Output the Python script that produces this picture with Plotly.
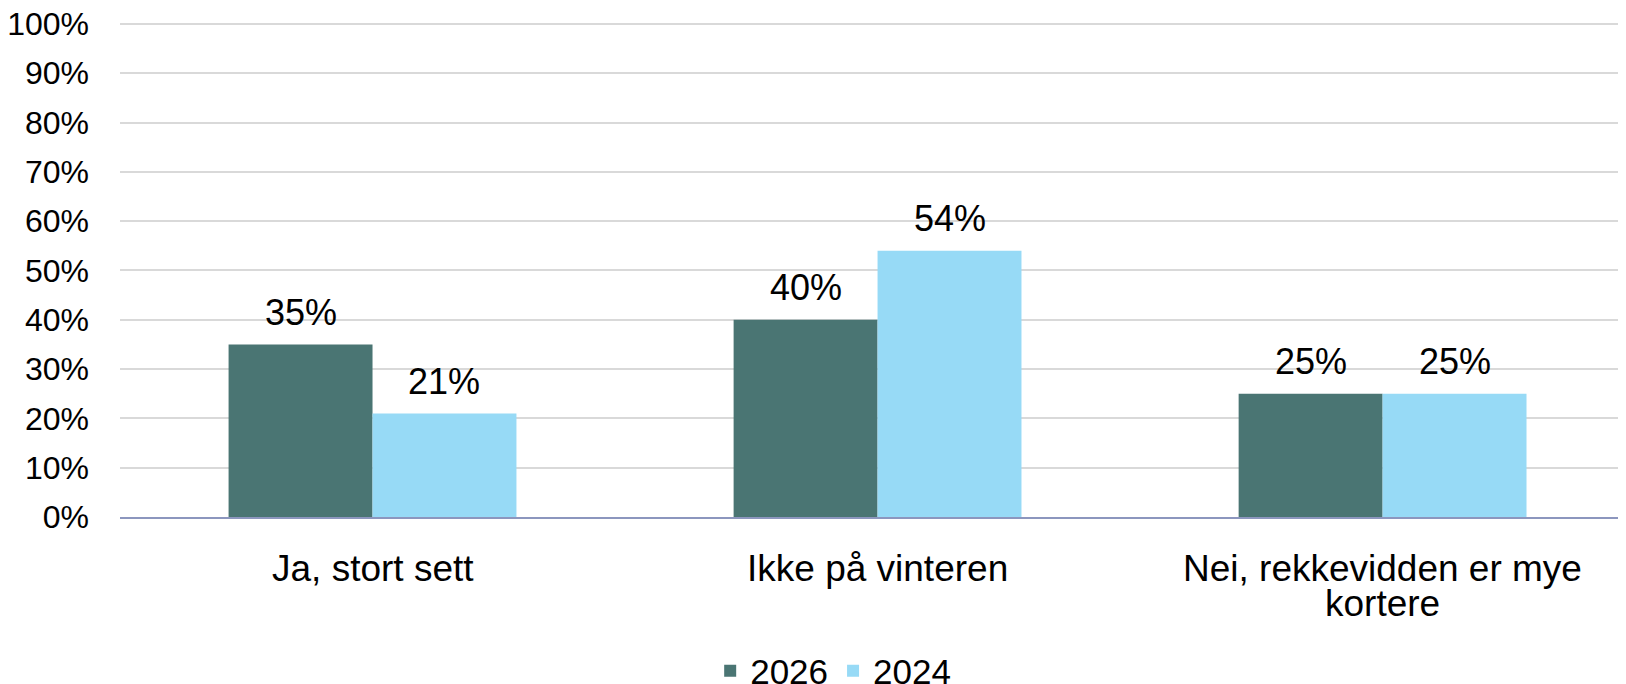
import plotly.graph_objects as go

categories = ["Ja, stort sett", "Ikke på vinteren", "Nei, rekkevidden er mye\nkortere"]
series_names = ["2026", "2024"]
values_2026 = [0.35, 0.40, 0.25]
values_2024 = [0.21, 0.54, 0.25]
colors = ["#4A7573", "#97DAF6"]
y_ticks = [i / 10 for i in range(11)]

FONT = "Liberation Sans, Arial"
BARGAP = 0.43
bar_w = (1 - BARGAP) / len(series_names)

fig = go.Figure()
for name, vals, col in zip(series_names, [values_2026, values_2024], colors):
    fig.add_trace(go.Bar(
        name=name, x=list(range(len(categories))), y=vals,
        marker_color=col, marker_line_width=0,
    ))

# data labels above bars
for s, vals in enumerate([values_2026, values_2024]):
    off = (s - (len(series_names) - 1) / 2) * bar_w
    for i, v in enumerate(vals):
        fig.add_annotation(
            x=i + off, y=v, xref="x", yref="y", text=f"{round(v*100)}%",
            showarrow=False, yanchor="middle", yshift=32,
            font=dict(size=36, color="black", family=FONT),
        )

# category labels under axis
for i, cat in enumerate(categories):
    for k, line in enumerate(cat.split("\n")):
        fig.add_annotation(
            x=i, y=0, xref="x", yref="paper", text=line, showarrow=False,
            yanchor="middle", yshift=-51 - 35 * k, borderpad=0,
            font=dict(size=37, color="black", family=FONT),
        )

fig.update_layout(
    width=1618, height=676,
    margin=dict(l=112, r=0, t=14, b=167, autoexpand=False),
    paper_bgcolor="white", plot_bgcolor="white",
    barmode="group", bargap=BARGAP, bargroupgap=0,
    font=dict(family=FONT, color="black"),
    showlegend=True,
    legend=dict(orientation="h", xref="container", yref="paper",
                x=0.51, xanchor="center", y=-0.311, yanchor="middle",
                font=dict(size=35), traceorder="normal"),
)
fig.update_xaxes(
    range=[-0.5, 2.482], showline=True, linecolor="#8C96BE", linewidth=2,
    showticklabels=False, ticks="", showgrid=False, automargin=False,
)
fig.update_yaxes(
    range=[0, 1.004], tickvals=y_ticks, tickformat=".0%", showgrid=True,
    gridcolor="#D9D9D9", gridwidth=1.5, zeroline=False, tickfont=dict(size=32),
    ticks="", ticklabelstandoff=30, automargin=False, ticklabeloverflow="allow",
)
fig.write_html("out.html")
